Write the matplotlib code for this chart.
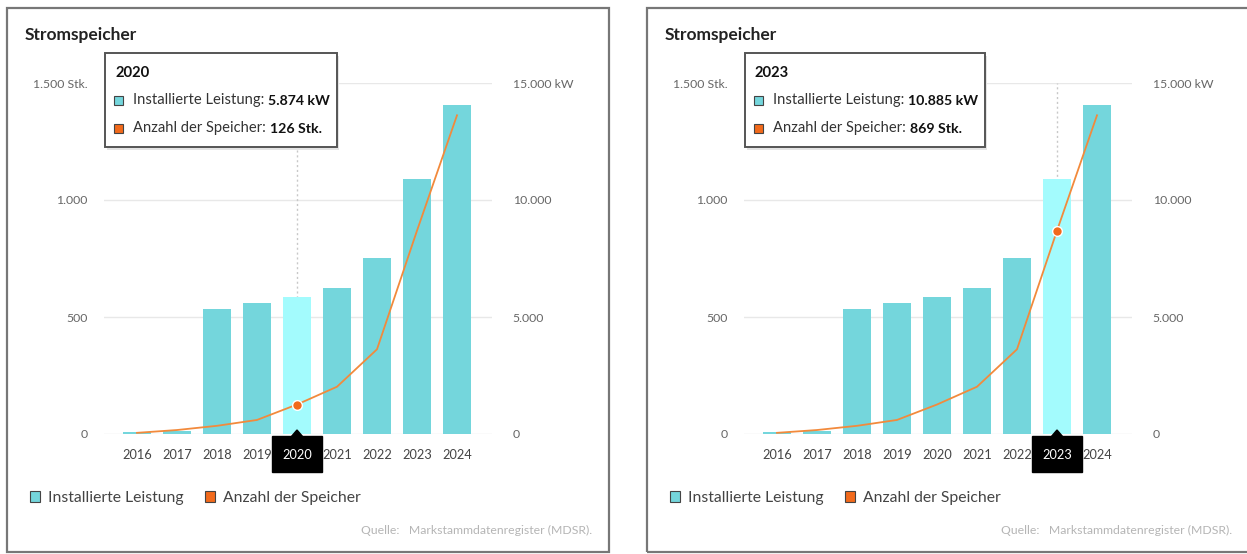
import matplotlib
matplotlib.use("Agg")
from matplotlib import pyplot as plt
from matplotlib.patches import Rectangle, Polygon, Patch
from matplotlib.text import Annotation

plt.rcParams['font.family'] = ['Lato', 'DejaVu Sans']

years = ['2016', '2017', '2018', '2019', '2020', '2021', '2022', '2023', '2024']
leistung_kw = [80, 110, 5330, 5580, 5874, 6220, 7540, 10885, 14060]
anzahl_stk = [5, 17, 35, 60, 126, 202, 362, 869, 1362]
highlight = ['2020', '2023']

W, H = 1247, 554
BAR = '#74d6dc'
BAR_HI = '#a3fbfd'
LINE = '#f28a3c'
DOT = '#f26a1b'


def fx(x):
    return x / W


def fy(y):
    return 1 - y / H


def de(v):
    return f"{v:,}".replace(",", ".")


def draw_panel(fig, dx, year, tip_w):
    hi = years.index(year)
    # panel frame
    fig.patches.append(Rectangle((fx(7 + dx), fy(552)), fx(602), (552 - 8) / H,
                                 transform=fig.transFigure, fill=False,
                                 edgecolor='#777777', lw=1.6, zorder=0))
    fig.text(fx(25 + dx), fy(35), 'Stromspeicher', fontsize=12.5,
             fontweight='bold', color='#222222', va='center', ha='left')

    ax = fig.add_axes([fx(104 + dx), fy(434), fx(388), (434 - 83) / H])
    ax2 = ax.twinx()
    x = list(range(len(years)))
    colors = [BAR_HI if i == hi else BAR for i in x]
    ax.bar(x, leistung_kw, width=0.68, color=colors, zorder=2)
    ax.axvline(hi, color='#c8c8c8', ls=(0, (1.5, 2)), lw=1, zorder=1)
    ax2.plot(x, anzahl_stk, color=LINE, lw=1.3)
    ax2.plot([hi], [anzahl_stk[hi]], 'o', color=DOT, ms=7, mec='white', mew=1)

    ax.set_xlim(-0.825, 8.875)
    ax.set_ylim(0, 15000)
    ax2.set_ylim(0, 1500)
    ax.set_yticks([0, 5000, 10000, 15000])
    ax.set_yticklabels(['0', '5.000', '10.000', '15.000 kW'])
    ax2.set_yticks([0, 500, 1000, 1500])
    ax2.set_yticklabels(['0', '500', '1.000', '1.500 Stk.'])
    ax.yaxis.tick_right()
    ax2.yaxis.tick_left()
    ax.tick_params(axis='y', length=0, pad=15, labelsize=8.8, labelcolor='#666666')
    ax2.tick_params(axis='y', length=0, pad=12, labelsize=8.8, labelcolor='#666666')
    ax.set_xticks(x)
    ax.set_xticklabels(years)
    ax.tick_params(axis='x', length=0, pad=11, labelsize=9.2, labelcolor='#444444')
    ax.get_xticklabels()[hi].set_color('white')
    ax.grid(axis='y', color='#e8e8e8', lw=1)
    ax.set_axisbelow(True)
    for a in (ax, ax2):
        for s in a.spines.values():
            s.set_visible(False)
    ax.patch.set_visible(False)

    # black box under highlighted year (drawn below the axis labels)
    cx = 137 + dx + hi * 40
    box = [(cx - 25, 436), (cx + 25, 436), (cx + 25, 472), (cx - 25, 472)]
    ax.add_patch(Polygon([(fx(p), fy(q)) for p, q in box], closed=True,
                         transform=fig.transFigure, color='black',
                         clip_on=False, zorder=0.2))
    tip = [(cx - 6, 437), (cx, 430), (cx + 6, 437)]
    ax.add_patch(Polygon([(fx(p), fy(q)) for p, q in tip], closed=True,
                         transform=fig.transFigure, color='black',
                         clip_on=False, zorder=3))

    # tooltip
    tx, ty = 105 + dx, 53
    fig.patches.append(Rectangle((fx(tx + 2), fy(147 + 3)), fx(tip_w), (147 - ty) / H,
                                 transform=fig.transFigure, facecolor='#e4e4e4',
                                 edgecolor='none', zorder=4))
    fig.patches.append(Rectangle((fx(tx), fy(147)), fx(tip_w), (147 - ty) / H,
                                 transform=fig.transFigure, facecolor='white',
                                 edgecolor='#555555', lw=1.4, zorder=5))
    fig.text(fx(tx + 10), fy(73), year, fontsize=10.6, fontweight='bold',
             color='#111111', va='center', zorder=6)
    rows = [(BAR, 'Installierte Leistung: ', de(leistung_kw[hi]) + ' kW', 100),
            (DOT, 'Anzahl der Speicher: ', de(anzahl_stk[hi]) + ' Stk.', 128)]
    for col, lab, val, yy in rows:
        fig.patches.append(Rectangle((fx(tx + 9), fy(yy + 5)), fx(9), 9 / H,
                                     transform=fig.transFigure, facecolor=col,
                                     edgecolor='#444444', lw=0.8, zorder=6))
        t = fig.text(fx(tx + 28), fy(yy), lab, fontsize=10.6, color='#333333',
                     va='center', zorder=6)
        ann = Annotation(val, xy=(1, 0), xycoords=t, fontsize=10.2,
                         fontweight='bold', color='#111111', va='bottom',
                         ha='left', annotation_clip=False)
        ann.set_zorder(7)
        fig.add_artist(ann)

    # legend
    handles = [Patch(facecolor=BAR, edgecolor='#444444', lw=0.8),
               Patch(facecolor=DOT, edgecolor='#444444', lw=0.8)]
    fig.legend(handles, ['Installierte Leistung', 'Anzahl der Speicher'],
               loc='center left', bbox_to_anchor=(fx(16 + dx), fy(498)),
               ncol=2, frameon=False, fontsize=11.3, handlelength=0.65,
               handleheight=0.65, handletextpad=0.5, columnspacing=1.35,
               labelcolor='#444444')

    fig.text(fx(592 + dx), fy(530), 'Quelle:   Markstammdatenregister (MDSR).',
             fontsize=8.8, color='#b5b5b5', ha='right', va='center')
    return ax, ax2


fig = plt.figure(figsize=(W / 100, H / 100), dpi=100)
draw_panel(fig, 0, highlight[0], 232)
draw_panel(fig, 640, highlight[1], 240)
fig.savefig('out.png', dpi=100)
